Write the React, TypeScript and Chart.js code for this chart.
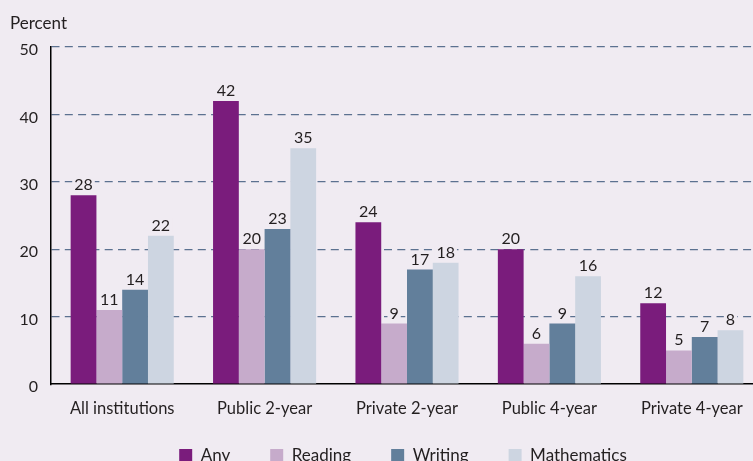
import React, { useEffect, useRef } from "react";
import { Chart, registerables } from "chart.js";

Chart.register(...registerables);

const categories = ["All institutions", "Public 2-year", "Private 2-year", "Public 4-year", "Private 4-year"];
const anyValues = [28, 42, 24, 20, 12];
const readingValues = [11, 20, 9, 6, 5];
const writingValues = [14, 23, 17, 9, 7];
const mathValues = [22, 35, 18, 16, 8];
const yTicks = [0, 10, 20, 30, 40, 50];
const yLabel = "Percent";

const BG = "#f0ebf2";
const TEXT = "#231f20";
const FONT = "Lato";

const bgPlugin = {
  id: "bgFill",
  beforeDraw(chart: any) {
    const { ctx, width, height } = chart;
    ctx.save();
    ctx.fillStyle = BG;
    ctx.fillRect(0, 0, width, height);
    ctx.restore();
  },
};

const legendShift = {
  id: "legendShift",
  afterLayout(chart: any) {
    const l = chart.legend;
    if (!l) return;
    const dy = 27;
    const dx = -4;
    l.top -= dy;
    l.bottom -= dy;
    l.left += dx;
    l.right += dx;
  },
};

const extrasPlugin = {
  id: "extras",
  afterDatasetsDraw(chart: any) {
    const ctx = chart.ctx;
    ctx.save();
    ctx.font = `16px ${FONT}`;
    ctx.textAlign = "center";
    ctx.textBaseline = "alphabetic";
    chart.data.datasets.forEach((ds: any, i: number) => {
      const meta = chart.getDatasetMeta(i);
      meta.data.forEach((bar: any, j: number) => {
        const text = String(ds.data[j]);
        const w = ctx.measureText(text).width;
        const x = bar.x;
        const y = bar.y - 5;
        ctx.fillStyle = BG;
        ctx.fillRect(x - w / 2 - 2, y - 13, w + 4, 15);
        ctx.fillStyle = TEXT;
        ctx.fillText(text, x, y);
      });
    });
    ctx.font = `17px ${FONT}`;
    ctx.textAlign = "left";
    ctx.fillStyle = TEXT;
    ctx.fillText(yLabel, 10, 29);
    ctx.restore();
  },
};

export default function App() {
  const ref = useRef<HTMLCanvasElement>(null);
  useEffect(() => {
    document.body.style.margin = "0";
    document.body.style.background = BG;
    document.documentElement.style.overflow = "hidden";
    const chart = new Chart(ref.current as HTMLCanvasElement, {
      type: "bar",
      data: {
        labels: categories,
        datasets: [
          { label: "Any", data: anyValues, backgroundColor: "#7a1c7c" },
          { label: "Reading", data: readingValues, backgroundColor: "#c6abcb" },
          { label: "Writing", data: writingValues, backgroundColor: "#627f9b" },
          { label: "Mathematics", data: mathValues, backgroundColor: "#cdd5e1" },
        ],
      },
      options: {
        responsive: false,
        animation: false,
        devicePixelRatio: 1,
        layout: { padding: { top: 47, left: 0, right: 2, bottom: 0 } },
        datasets: { bar: { categoryPercentage: 0.724, barPercentage: 1, borderWidth: 0 } },
        plugins: {
          legend: {
            position: "bottom",
            fullSize: false,
            labels: {
              boxWidth: 13,
              boxHeight: 13,
              padding: 40,
              color: TEXT,
              font: { family: FONT, size: 17 },
            },
          },
          tooltip: { enabled: false },
          title: { display: false },
        },
        scales: {
          x: {
            grid: { display: false, drawTicks: false },
            border: { display: true, color: "#000", width: 1.5 },
            ticks: { color: TEXT, font: { family: FONT, size: 16.5 }, padding: 15 },
          },
          y: {
            min: 0,
            max: 50,
            afterFit: (scale: any) => {
              scale.width = 51;
            },
            afterBuildTicks: (scale: any) => {
              scale.ticks = yTicks.map((v) => ({ value: v }));
            },
            grid: {
              drawTicks: false,
              color: (c: any) => (c.tick && c.tick.value === 0 ? "rgba(0,0,0,0)" : "#5b7190"),
              lineWidth: 1.2,
            },
            border: { display: true, color: "#000", width: 1.5, dash: [8, 5.3] },
            ticks: { color: TEXT, font: { family: FONT, size: 16 }, padding: 13, labelOffset: 3 },
          },
        },
      },
      plugins: [bgPlugin, legendShift, extrasPlugin],
    });
    return () => chart.destroy();
  }, []);
  return (
    <div style={{ width: 765, height: 501, overflow: "hidden" }}>
      <canvas ref={ref} width={765} height={501} />
    </div>
  );
}
